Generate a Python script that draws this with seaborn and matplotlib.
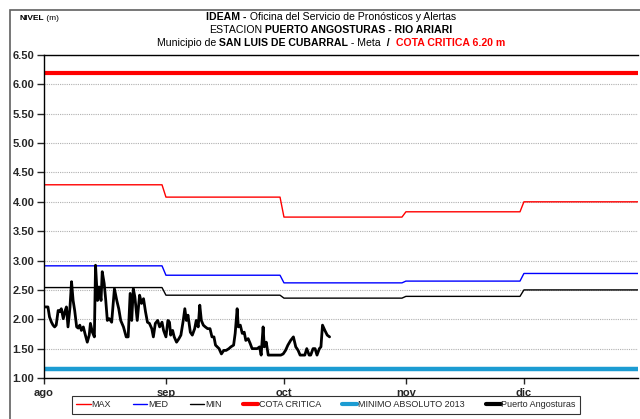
import matplotlib.pyplot as plt
import matplotlib.dates as mdates
from matplotlib.lines import Line2D
from matplotlib.patches import Rectangle
import seaborn as sns
import pandas as pd
import numpy as np

# monthly reference levels (ago..dic)
meses = ['ago', 'sep', 'oct', 'nov', 'dic']
nivel_max = [4.29, 4.08, 3.74, 3.83, 4.00]
nivel_med = [2.91, 2.75, 2.62, 2.65, 2.78]
nivel_min = [2.54, 2.41, 2.36, 2.39, 2.50]
cota_critica = 6.20
minimo_absoluto = 1.15

# Puerto Angosturas readings: days since 1 ago 2013 and level (m)
puerto_dias = [
    0.0, 0.5, 1.0, 1.4, 1.9, 2.3, 2.7, 3.1, 3.6, 4.0, 4.4, 4.9,
    5.3, 5.7, 6.1, 6.6, 7.0, 7.4, 7.8, 8.3, 8.7, 9.1, 9.5, 10.0,
    10.4, 11.0, 11.5, 11.8, 12.3, 12.8, 13.1, 13.6, 14.0, 14.5, 14.8, 15.3,
    15.7, 16.1, 16.6, 17.2, 17.9, 18.5, 19.0, 19.5, 20.2, 20.9, 21.4, 21.9,
    22.3, 22.7, 23.1, 23.7, 24.3, 24.8, 25.3, 25.8, 26.3, 26.8, 27.4, 27.8,
    28.3, 28.9, 29.4, 30.0, 30.4, 31.0, 31.5, 31.9, 32.2, 32.7, 33.1, 33.7,
    34.3, 34.8, 35.4, 35.8, 36.2, 36.6, 37.2, 37.7, 38.3, 38.7, 39.2, 39.6,
    40.0, 40.5, 41.0, 41.6, 42.2, 42.7, 43.2, 43.6, 44.5, 45.1, 45.7, 46.3,
    47.0, 47.5, 48.2, 48.6, 49.1, 49.4, 49.9, 50.4, 50.9, 51.3, 51.9, 52.4,
    52.9, 53.6, 54.2, 54.8, 55.2, 55.7, 56.0, 56.5, 57.0, 57.7, 58.5, 59.4,
    60.2, 60.8, 61.4, 62.0, 62.7, 63.4, 64.0, 64.6, 65.1, 65.7, 66.3, 66.8,
    67.4, 67.8, 68.4, 68.9, 69.4, 70.0, 70.4, 70.8, 71.4, 72.0, 72.6,
]
nivel_puerto = [
    2.21, 2.21, 2.21, 2.04, 1.95, 1.90, 1.87, 1.90, 2.15, 2.13, 2.18, 2.01,
    2.13, 2.21, 1.87, 2.20, 2.64, 2.32, 2.15, 1.87, 1.85, 1.90, 1.81, 1.87,
    1.76, 1.61, 1.73, 1.93, 1.78, 1.70, 2.92, 2.32, 2.55, 2.32, 2.81, 2.61,
    2.32, 1.98, 2.01, 1.95, 2.52, 2.32, 2.18, 1.98, 1.87, 1.70, 1.70, 2.44,
    1.98, 2.52, 2.38, 1.98, 2.41, 2.27, 2.35, 2.13, 1.95, 1.93, 1.84, 1.70,
    1.93, 1.98, 1.87, 1.95, 1.81, 1.70, 1.98, 1.95, 1.73, 1.81, 1.70, 1.61,
    1.67, 1.73, 1.98, 2.18, 1.98, 2.07, 1.78, 1.73, 1.84, 1.98, 1.87, 2.24,
    1.98, 1.90, 1.87, 1.84, 1.84, 1.70, 1.70, 1.56, 1.50, 1.41, 1.47, 1.47,
    1.50, 1.53, 1.56, 1.76, 2.18, 1.87, 1.90, 1.76, 1.78, 1.64, 1.67, 1.59,
    1.50, 1.50, 1.50, 1.53, 1.39, 1.87, 1.53, 1.61, 1.39, 1.39, 1.39, 1.39,
    1.39, 1.41, 1.47, 1.56, 1.64, 1.70, 1.53, 1.47, 1.39, 1.39, 1.39, 1.50,
    1.39, 1.39, 1.50, 1.50, 1.39, 1.50, 1.53, 1.90, 1.81, 1.73, 1.70,
]

FONT = ['Liberation Sans Narrow', 'Liberation Sans', 'DejaVu Sans']
COLORS = {'MAX': '#ff0000', 'MED': '#0000ff', 'MIN': '#000000'}


def rich_line(fig, x0, y, parts, size, center=True):
    """Draw one text line made of bold/normal/colored pieces."""
    renderer = fig.canvas.get_renderer()
    texts = []
    for s, weight, color in parts:
        texts.append(fig.text(0, y, s, fontsize=size, fontweight=weight,
                              color=color, family=FONT, va='center'))
    widths = [t.get_window_extent(renderer).width for t in texts]
    W = fig.get_figwidth() * fig.dpi
    x = x0 - sum(widths) / 2 if center else x0
    for t, w in zip(texts, widths):
        t.set_x(x / W)
        x += w


sns.set_style("ticks")
plt.rcParams['font.family'] = ['Liberation Sans', 'DejaVu Sans']

fig = plt.figure(figsize=(6.4, 4.19), dpi=100)
ax = fig.add_axes([44 / 640, 1 - 378 / 419, (638 - 44) / 640, (378 - 55) / 419])

# reference (monthly) levels as daily steps
dias = pd.date_range('2013-08-01', '2013-12-31', freq='D')
idx = dias.month - 8
ref = pd.DataFrame({'fecha': dias,
                    'MAX': np.array(nivel_max)[idx],
                    'MED': np.array(nivel_med)[idx],
                    'MIN': np.array(nivel_min)[idx]})
ref_long = ref.melt(id_vars='fecha', var_name='serie', value_name='nivel')
sns.lineplot(data=ref_long, x='fecha', y='nivel', hue='serie', palette=COLORS,
             linewidth=1, ax=ax, legend=False)

extremos = [dias[0], dias[-1] + pd.Timedelta(days=1)]
sns.lineplot(x=extremos, y=[cota_critica] * 2, color='#ff0000', linewidth=3, ax=ax)
sns.lineplot(x=extremos, y=[minimo_absoluto] * 2, color='#1c9cd2', linewidth=3.2, ax=ax)

fechas = pd.Timestamp('2013-08-01') + pd.to_timedelta(puerto_dias, unit='D')
sns.lineplot(x=fechas, y=nivel_puerto, color='black', linewidth=2, ax=ax)

# axes styling
ax.set_xlim(pd.Timestamp('2013-08-01'), pd.Timestamp('2013-12-30'))
ax.set_ylim(1.0, 6.5)
ax.set_yticks(np.arange(1.0, 6.51, 0.5))
ax.yaxis.set_major_formatter(plt.FormatStrFormatter('%.2f'))
ax.xaxis.set_major_locator(mdates.MonthLocator())
ax.set_xticklabels(meses)
ax.set_xlabel('')
ax.set_ylabel('')
for lab in ax.get_yticklabels() + ax.get_xticklabels():
    lab.set_fontweight('bold')
ax.tick_params(axis='y', labelsize=8, length=5, width=1, pad=2)
ax.tick_params(axis='x', labelsize=8, length=4, width=1, pad=3)
ax.grid(axis='y', color='#b0b0b0', linestyle=(0, (1, 1)), linewidth=0.8)
ax.spines['right'].set_visible(False)
for s in ['left', 'bottom', 'top']:
    ax.spines[s].set_linewidth(1)
    ax.spines[s].set_color('black')

# outer chart frame
fig.add_artist(Rectangle((10 / 640, -0.1), 1.2, 1 - 10 / 419 + 0.1,
                         transform=fig.transFigure, fill=False,
                         edgecolor='#606060', linewidth=1.2))

# titles
rich_line(fig, 331, 1 - 17 / 419, [('IDEAM -', 'bold', 'black'),
                                   (' Oficina del Servicio de Pronósticos y Alertas', 'normal', 'black')], 7.6)
rich_line(fig, 331, 1 - 30 / 419, [('ESTACION', 'normal', 'black'),
                                   (' PUERTO ANGOSTURAS - RIO ARIARI', 'bold', 'black')], 7.6)
rich_line(fig, 331, 1 - 43 / 419, [('Municipio de', 'normal', 'black'),
                                   (' SAN LUIS DE CUBARRAL', 'bold', 'black'),
                                   (' - Meta', 'normal', 'black'),
                                   ('  /  ', 'bold', 'black'),
                                   ('COTA CRITICA 6.20 m', 'bold', '#ff0000')], 7.6)
rich_line(fig, 20, 1 - 19 / 419, [('NIVEL', 'bold', 'black'), (' (m)', 'normal', 'black')],
          6, center=False)

# legend
handles = [Line2D([], [], color='#ff0000', lw=1),
           Line2D([], [], color='#0000ff', lw=1),
           Line2D([], [], color='black', lw=1),
           Line2D([], [], color='#ff0000', lw=3),
           Line2D([], [], color='#1c9cd2', lw=3),
           Line2D([], [], color='black', lw=3)]
labels = ['MAX', 'MED', 'MIN', 'COTA CRITICA', 'MINIMO ABSOLUTO 2013', 'Puerto Angosturas']
leg = fig.legend(handles, labels, loc='upper center', bbox_to_anchor=(326 / 640, 1 - 391 / 419),
                 ncol=6, frameon=True, fancybox=False, handlelength=1.6,
                 handletextpad=0.1, columnspacing=2.4, borderpad=0.5,
                 prop={'family': FONT, 'size': 6.5})
leg.get_frame().set_edgecolor('black')
leg.get_frame().set_linewidth(0.8)

fig.savefig('out.png', dpi=100)
plt.close(fig)
